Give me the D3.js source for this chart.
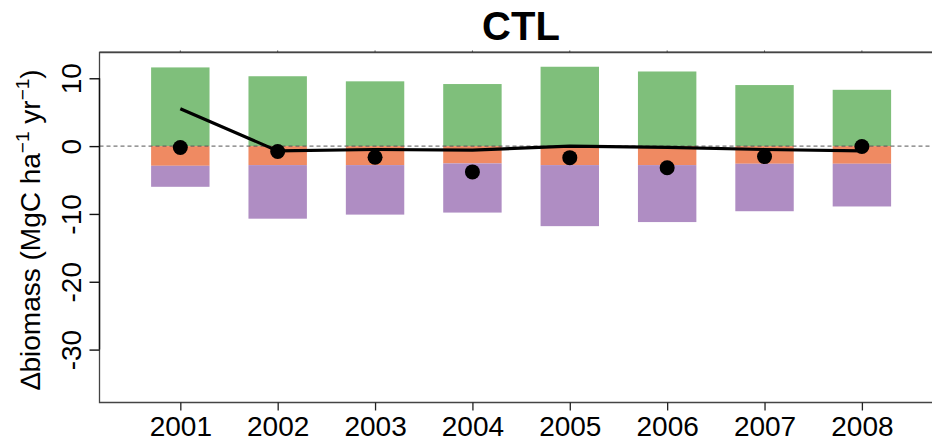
<!DOCTYPE html>
<html><head><meta charset="utf-8">
<script src="https://cdn.jsdelivr.net/npm/d3@7"></script>
<style>body{margin:0;background:#fff}svg{display:block}text{font-family:"Liberation Sans",Arial,sans-serif}</style>
</head><body><svg id="c" width="932" height="446"></svg>
<script>
const years = [2001,2002,2003,2004,2005,2006,2007,2008];
const gain = [11.6,10.3,9.55,9.15,11.7,11.0,9.0,8.3];
const lossA = [-2.9,-2.8,-2.8,-2.55,-2.8,-2.8,-2.6,-2.6];
const lossB = [-3.1,-7.9,-7.3,-7.25,-9.0,-8.4,-7.0,-6.3];
const net = [-0.2,-0.8,-1.65,-3.8,-1.7,-3.2,-1.55,-0.05];
const trend = [5.5,-0.7,-0.5,-0.6,0.0,-0.2,-0.5,-0.7];
const yTicks = [10,0,-10,-20,-30];
const title = "CTL";

const svg = d3.select("#c");
const L=99.5, R=932, T=52.5, B=402.5;
const x = d3.scaleLinear().domain([2000.17,2008.72]).range([L,R]);
const y = d3.scaleLinear().domain([-37.8,13.8]).range([B,T]);
const bw = (x(2002)-x(2001))*0.6;

const cols = {g:"#7fbf7b", o:"#ef8a62", p:"#af8dc3"};
const g = svg.append("g");
years.forEach((yr,i)=>{
  const x0 = x(yr)-bw/2;
  g.append("rect").attr("x",x0).attr("width",bw).attr("y",y(gain[i])).attr("height",y(0)-y(gain[i])).attr("fill",cols.g);
  g.append("rect").attr("x",x0).attr("width",bw).attr("y",y(0)).attr("height",y(lossA[i])-y(0)).attr("fill",cols.o);
  g.append("rect").attr("x",x0).attr("width",bw).attr("y",y(lossA[i])).attr("height",y(lossA[i]+lossB[i])-y(lossA[i])).attr("fill",cols.p);
});

// zero dashed line
svg.append("line").attr("x1",L).attr("x2",R).attr("y1",y(0)).attr("y2",y(0))
  .attr("stroke","#555").attr("stroke-width",1).attr("stroke-dasharray","4,3");

// trend line
svg.append("path").datum(years.map((yr,i)=>[x(yr),y(trend[i])]))
  .attr("d",d3.line()).attr("fill","none").attr("stroke","#000").attr("stroke-width",3.2);
// dots
svg.selectAll("circle.n").data(years).enter().append("circle")
  .attr("cx",d=>x(d)).attr("cy",(d,i)=>y(net[i])).attr("r",7.5).attr("fill","#000");

// frame (left, top, bottom)
svg.append("path").attr("d",`M${R},${T}H${L}V${B}H${R}`).attr("fill","none").attr("stroke","#444").attr("stroke-width",1.3);
svg.append("line").attr("x1",L).attr("x2",R).attr("y1",T-0.5).attr("y2",T-0.5).attr("stroke","#444").attr("stroke-width",1);

// x axis
const xa = svg.append("g").attr("transform",`translate(0,${B})`)
  .call(d3.axisBottom(x).tickValues(years).tickFormat(d=>String(d)).tickSize(8).tickPadding(6));
xa.select(".domain").remove();
xa.selectAll("line").attr("stroke","#222").attr("stroke-width",1.3);
xa.selectAll("text").attr("font-size",28).attr("fill","#000").attr("font-family","Liberation Sans, Arial, sans-serif");
// tiny top ticks
svg.selectAll("line.tt").data(years).enter().append("line")
  .attr("x1",d=>x(d)).attr("x2",d=>x(d)).attr("y1",T).attr("y2",T-2).attr("stroke","#444");

// y axis
const ya = svg.append("g").attr("transform",`translate(${L},0)`)
  .call(d3.axisLeft(y).tickValues(yTicks).tickFormat(d=>String(d)).tickSize(10).tickPadding(0));
ya.select(".domain").attr("d",`M0,${y(10)}V${y(-30)}`).attr("stroke","#111").attr("stroke-width",1.4);
ya.selectAll("line").attr("stroke","#111").attr("stroke-width",1.4);
ya.selectAll(".tick text").attr("font-size",28).attr("fill","#000").attr("font-family","Liberation Sans, Arial, sans-serif")
  .attr("text-anchor","middle").attr("dy",0).attr("x",0)
  .attr("transform","translate(-19,0) rotate(-90)");

// y label
const yl = svg.append("text").attr("transform",`translate(40,${(T+B)/2+2}) rotate(-90)`)
  .attr("text-anchor","middle").attr("font-size",28).attr("fill","#000");
yl.append("tspan").text("\u2206biomass (MgC ha");
yl.append("tspan").text("\u22121").attr("font-size",19).attr("dy",-11);
yl.append("tspan").text(" yr").attr("dy",11);
yl.append("tspan").text("\u22121").attr("font-size",19).attr("dy",-11);
yl.append("tspan").text(")").attr("dy",11);

// title
svg.append("text").attr("x",521).attr("y",40).attr("text-anchor","middle")
  .attr("font-size",40).attr("font-weight","bold").attr("fill","#000").text(title);
</script></body></html>
